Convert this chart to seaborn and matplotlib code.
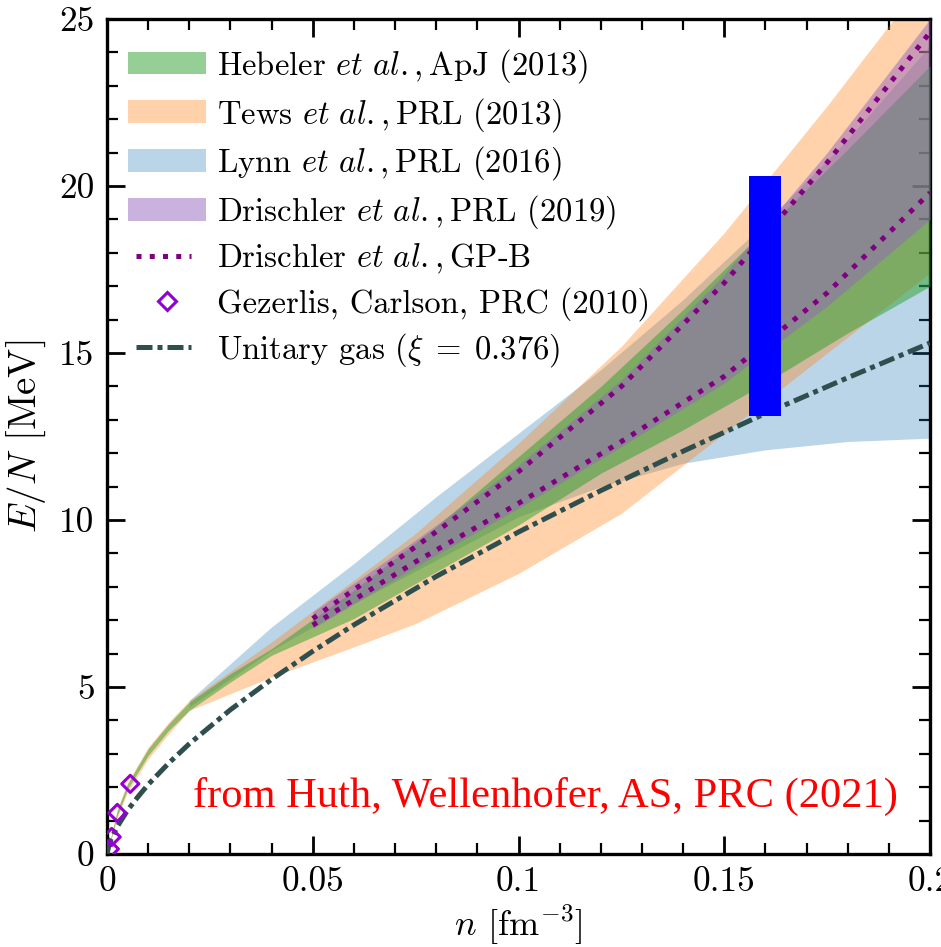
import matplotlib
matplotlib.use("Agg")
import matplotlib.pyplot as plt
import numpy as np
import pandas as pd
import seaborn as sns
from matplotlib.lines import Line2D
from matplotlib.legend_handler import HandlerLine2D
from matplotlib.ticker import FixedLocator, FixedFormatter, MultipleLocator

# ---- data: neutron-matter energy per particle E/N [MeV] vs density n [fm^-3] ----
# Hebeler et al., ApJ (2013)
heb_n = [0.0, 0.0025, 0.005, 0.01, 0.015, 0.02, 0.03, 0.04, 0.06, 0.08, 0.10, 0.12, 0.14, 0.16, 0.18, 0.20]
heb_lo = [0.0, 1.15, 1.95, 2.95, 3.70, 4.30, 5.15, 5.95, 7.05, 8.45, 9.85, 11.4, 12.7, 14.1, 15.6, 17.0]
heb_hi = [0.0, 1.30, 2.10, 3.15, 3.90, 4.55, 5.40, 6.15, 7.90, 9.80, 11.9, 14.0, 16.3, 18.7, 21.1, 23.6]

# Tews et al., PRL (2013)
tews_n = [0.0, 0.0025, 0.005, 0.01, 0.015, 0.02, 0.04, 0.06, 0.075, 0.10, 0.125, 0.15, 0.175, 0.20]
tews_lo = [0.0, 1.10, 1.85, 2.85, 3.60, 4.30, 5.30, 6.20, 6.90, 8.40, 10.2, 12.6, 15.0, 17.4]
tews_hi = [0.0, 1.35, 2.15, 3.20, 3.95, 4.60, 6.35, 8.20, 9.60, 12.3, 15.2, 18.6, 22.4, 26.4]

# Lynn et al., PRL (2016)
lynn_n = [0.02, 0.04, 0.06, 0.08, 0.10, 0.12, 0.14, 0.16, 0.18, 0.20]
lynn_lo = [4.40, 6.10, 7.50, 8.80, 10.1, 11.0, 11.7, 12.1, 12.35, 12.45]
lynn_hi = [4.60, 6.80, 8.70, 10.7, 12.6, 14.5, 16.6, 18.9, 21.4, 24.2]

# Drischler et al., PRL (2019)
dri_n = [0.05, 0.075, 0.10, 0.125, 0.15, 0.175, 0.20]
dri_lo = [6.75, 8.60, 10.35, 12.2, 14.1, 16.4, 19.0]
dri_hi = [7.25, 9.40, 11.65, 14.2, 17.35, 21.0, 25.0]

# Drischler et al., GP-B (two bounding curves)
gpb_n = [0.05, 0.075, 0.10, 0.125, 0.15, 0.175, 0.20]
gpb_lo = [6.85, 8.75, 10.5, 12.35, 14.3, 16.8, 19.8]
gpb_hi = [7.05, 9.20, 11.45, 14.0, 17.1, 20.7, 24.6]

# Gezerlis, Carlson, PRC (2010) QMC points
gez_n = [0.0007, 0.00114, 0.0025, 0.00566]
gez_E = [0.15, 0.51, 1.23, 2.10]

# Unitary gas, xi = 0.376
uni_n = [0.0, 0.0005, 0.001, 0.0025, 0.005, 0.0075, 0.01, 0.015, 0.02, 0.03, 0.04, 0.05,
         0.06, 0.08, 0.10, 0.12, 0.14, 0.16, 0.18, 0.20]
uni_E = [0.0, 0.28, 0.45, 0.82, 1.31, 1.71, 2.08, 2.72, 3.30, 4.32, 5.23, 6.07,
         6.86, 8.31, 9.64, 10.88, 12.06, 13.19, 14.26, 15.30]

# saturation-density band
bar_n = 0.16
bar_lo = 13.1
bar_hi = 20.3

xticks = [0.0, 0.05, 0.10, 0.15, 0.20]
xtick_labels = ["0", "0.05", "0.1", "0.15", "0.2"]
yticks = [0, 5, 10, 15, 20, 25]
ytick_labels = ["0", "5", "10", "15", "20", "25"]

# ---- style ----
sns.set_theme(style="ticks")
plt.rcParams.update({
    "font.family": ["cmr10", "DejaVu Serif"],
    "mathtext.fontset": "cm",
    "axes.formatter.use_mathtext": True,
    "axes.unicode_minus": False,
    "axes.edgecolor": "black",
    "xtick.color": "black",
    "ytick.color": "black",
    "text.color": "black",
    "axes.labelcolor": "black",
})

fig = plt.figure(figsize=(9.41, 9.47), dpi=100)
ax = fig.add_axes([107 / 941, 93 / 947, 823 / 941, 835 / 947])
ax.set_facecolor("white")

# ---- bands ----
lynn = ax.fill_between(lynn_n, lynn_lo, lynn_hi, color="tab:blue", alpha=0.3, lw=0, zorder=1)
tews = ax.fill_between(tews_n, tews_lo, tews_hi, color="tab:orange", alpha=0.35, lw=0, zorder=2)
heb = ax.fill_between(heb_n, heb_lo, heb_hi, color="tab:green", alpha=0.5, lw=0, zorder=3)
dri = ax.fill_between(dri_n, dri_lo, dri_hi, color="tab:purple", alpha=0.5, lw=0, zorder=4)

# ---- curves ----
uni_df = pd.DataFrame({"n": uni_n, "E": uni_E})
sns.lineplot(data=uni_df, x="n", y="E", color="darkslategray", lw=3.6, ax=ax, zorder=6)
ax.lines[-1].set_dashes([3.2, 1.0, 1.0, 1.0])

for bound in (gpb_lo, gpb_hi):
    sns.lineplot(x=gpb_n, y=bound, color="purple", lw=3.6, ax=ax, zorder=5)
    ax.lines[-1].set_linestyle(":")

sns.scatterplot(x=gez_n, y=gez_E, marker="D", s=76, ax=ax, zorder=7)
pts = ax.collections[-1]
pts.set_facecolor("none")
pts.set_edgecolor("darkviolet")
pts.set_linewidth(2.2)

ax.bar([bar_n], [bar_hi - bar_lo], bottom=[bar_lo], width=0.0078, color="blue", lw=0, zorder=8)

ax.text(0.0209, 1.41, "from Huth, Wellenhofer, AS, PRC (2021)", color="red",
        fontsize=30.6, family="Liberation Serif", ha="left", va="baseline", zorder=9)

# ---- axes ----
ax.set_xlim(0, 0.2)
ax.set_ylim(0, 25)
ax.xaxis.set_major_locator(FixedLocator(xticks))
ax.xaxis.set_major_formatter(FixedFormatter(xtick_labels))
ax.xaxis.set_minor_locator(MultipleLocator(0.01))
ax.yaxis.set_major_locator(FixedLocator(yticks))
ax.yaxis.set_major_formatter(FixedFormatter(ytick_labels))
ax.yaxis.set_minor_locator(MultipleLocator(1))
ax.tick_params(which="both", direction="in", top=True, right=True)
ax.tick_params(which="major", length=13, width=2.0, labelsize=25.5, pad=9)
ax.tick_params(which="minor", length=8, width=1.6)
for sp in ax.spines.values():
    sp.set_linewidth(2.4)
    sp.set_color("black")

ax.set_xlabel(r"$n$ [fm$^{-3}$]", fontsize=26, labelpad=3)
ax.set_ylabel(r"$E/N$ [MeV]", fontsize=28, labelpad=8)


class ShortLineHandler(HandlerLine2D):
    """Legend line drawn a little shorter than the patch handles."""

    def get_xdata(self, legend, xdescent, ydescent, width, height, fontsize):
        xd, xd_marker = super().get_xdata(legend, xdescent, ydescent, width, height, fontsize)
        w = xd[-1] - xd[0]
        return np.array([xd[0] + 0.10 * w, xd[-1] - 0.20 * w]), xd_marker


gpb_handle = Line2D([], [], color="purple", lw=3.6, ls=":")
gez_handle = Line2D([], [], marker="D", ls="none", mfc="none", mec="darkviolet", mew=2.2, ms=8.7)
uni_handle = Line2D([], [], color="darkslategray", lw=3.6, dashes=(3.2, 1.0, 1.0, 1.0))

handles = [heb, tews, lynn, dri, gpb_handle, gez_handle, uni_handle]
labels = [
    r"Hebeler $et\ al.,\mathrm{ApJ}$ (2013)",
    r"Tews $et\ al.,\mathrm{PRL}$ (2013)",
    r"Lynn $et\ al.,\mathrm{PRL}$ (2016)",
    r"Drischler $et\ al.,\mathrm{PRL}$ (2019)",
    r"Drischler $et\ al.,\mathrm{GP}$-B",
    r"Gezerlis, Carlson, PRC (2010)",
    r"Unitary gas ($\xi\;=\;0.376$)",
]
ax.legend(handles, labels, loc="upper left", bbox_to_anchor=(0, 1 - 7 / 835),
          frameon=False, fontsize=23.5, handlelength=2.4, handletextpad=0.33,
          labelspacing=0.33, borderaxespad=0.0, borderpad=0.64,
          handler_map={gpb_handle: ShortLineHandler(), uni_handle: ShortLineHandler()})

fig.savefig("out.png", dpi=100)
